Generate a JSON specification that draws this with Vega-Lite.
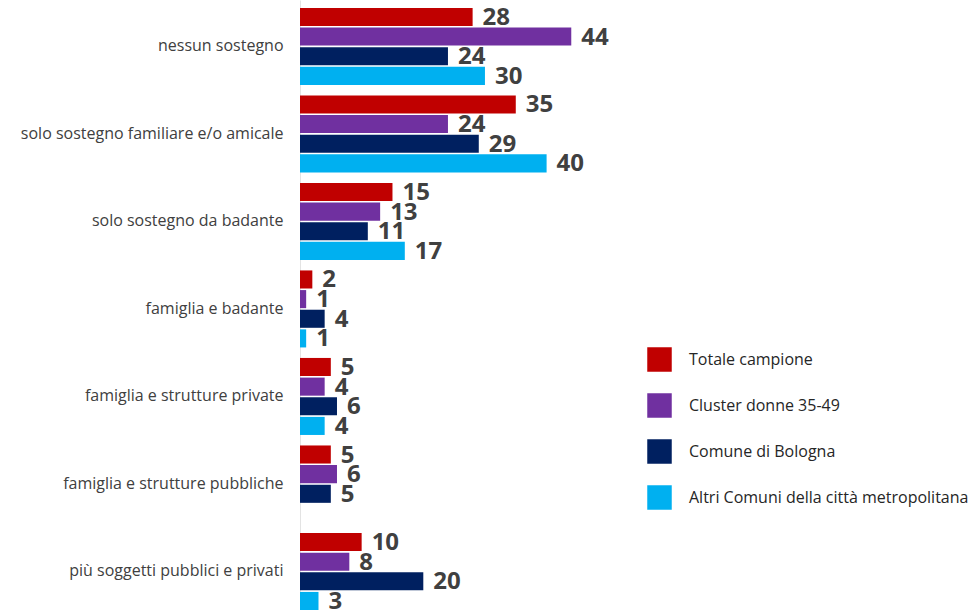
{
  "$schema": "https://vega.github.io/schema/vega-lite/v6.json",
  "width": 672,
  "height": 610,
  "autosize": {"type": "none"},
  "padding": {"left": 300, "top": 0, "right": 0, "bottom": 0},
  "background": "white",
  "config": {"view": {"stroke": null}, "font": "Open Sans"},
  "data": {
    "values": [
      {"cat": "nessun sostegno", "serie": "Totale campione", "val": 28},
      {"cat": "nessun sostegno", "serie": "Cluster donne 35-49", "val": 44},
      {"cat": "nessun sostegno", "serie": "Comune di Bologna", "val": 24},
      {"cat": "nessun sostegno", "serie": "Altri Comuni della città metropolitana", "val": 30},
      {"cat": "solo sostegno familiare e/o amicale", "serie": "Totale campione", "val": 35},
      {"cat": "solo sostegno familiare e/o amicale", "serie": "Cluster donne 35-49", "val": 24},
      {"cat": "solo sostegno familiare e/o amicale", "serie": "Comune di Bologna", "val": 29},
      {"cat": "solo sostegno familiare e/o amicale", "serie": "Altri Comuni della città metropolitana", "val": 40},
      {"cat": "solo sostegno da badante", "serie": "Totale campione", "val": 15},
      {"cat": "solo sostegno da badante", "serie": "Cluster donne 35-49", "val": 13},
      {"cat": "solo sostegno da badante", "serie": "Comune di Bologna", "val": 11},
      {"cat": "solo sostegno da badante", "serie": "Altri Comuni della città metropolitana", "val": 17},
      {"cat": "famiglia e badante", "serie": "Totale campione", "val": 2},
      {"cat": "famiglia e badante", "serie": "Cluster donne 35-49", "val": 1},
      {"cat": "famiglia e badante", "serie": "Comune di Bologna", "val": 4},
      {"cat": "famiglia e badante", "serie": "Altri Comuni della città metropolitana", "val": 1},
      {"cat": "famiglia e strutture private", "serie": "Totale campione", "val": 5},
      {"cat": "famiglia e strutture private", "serie": "Cluster donne 35-49", "val": 4},
      {"cat": "famiglia e strutture private", "serie": "Comune di Bologna", "val": 6},
      {"cat": "famiglia e strutture private", "serie": "Altri Comuni della città metropolitana", "val": 4},
      {"cat": "famiglia e strutture pubbliche", "serie": "Totale campione", "val": 5},
      {"cat": "famiglia e strutture pubbliche", "serie": "Cluster donne 35-49", "val": 6},
      {"cat": "famiglia e strutture pubbliche", "serie": "Comune di Bologna", "val": 5},
      {"cat": "più soggetti pubblici e privati", "serie": "Totale campione", "val": 10},
      {"cat": "più soggetti pubblici e privati", "serie": "Cluster donne 35-49", "val": 8},
      {"cat": "più soggetti pubblici e privati", "serie": "Comune di Bologna", "val": 20},
      {"cat": "più soggetti pubblici e privati", "serie": "Altri Comuni della città metropolitana", "val": 3}
    ]
  },
  "encoding": {
    "y": {
      "field": "cat",
      "type": "nominal",
      "sort": ["nessun sostegno", "solo sostegno familiare e/o amicale", "solo sostegno da badante", "famiglia e badante", "famiglia e strutture private", "famiglia e strutture pubbliche", "più soggetti pubblici e privati"],
      "scale": {"paddingInner": 0.12, "paddingOuter": 0.045, "align": 1},
      "axis": {"title": null, "ticks": false, "domainColor": "#e3e3e3", "labelFontSize": 16, "labelColor": "#404040", "labelPadding": 17, "labelLimit": 0}
    },
    "yOffset": {
      "field": "serie",
      "type": "nominal",
      "sort": ["Totale campione", "Cluster donne 35-49", "Comune di Bologna", "Altri Comuni della città metropolitana"],
      "scale": {"paddingInner": 0.08}
    },
    "x": {"field": "val", "type": "quantitative", "scale": {"domain": [0, 109]}, "axis": null}
  },
  "layer": [
    {
      "mark": {"type": "bar"},
      "encoding": {
        "color": {
          "field": "serie",
          "type": "nominal",
          "scale": {
            "domain": ["Totale campione", "Cluster donne 35-49", "Comune di Bologna", "Altri Comuni della città metropolitana"],
            "range": ["#C00000", "#7030A0", "#002060", "#00B0F0"]
          },
          "legend": {
            "orient": "none",
            "legendX": 347,
            "legendY": 347,
            "title": null,
            "symbolType": "square",
            "symbolSize": 600,
            "symbolStrokeWidth": 0,
            "symbolOpacity": 1,
            "labelFontSize": 16,
            "labelLimit": 400,
            "labelColor": "#262626",
            "rowPadding": 21,
            "labelOffset": 17,
            "padding": 0
          }
        }
      }
    },
    {
      "mark": {"type": "text", "align": "left", "baseline": "middle", "dx": 10, "dy": 1, "fontSize": 24, "fontWeight": "bold", "color": "#404040"},
      "encoding": {"text": {"field": "val", "type": "quantitative"}}
    }
  ]
}
